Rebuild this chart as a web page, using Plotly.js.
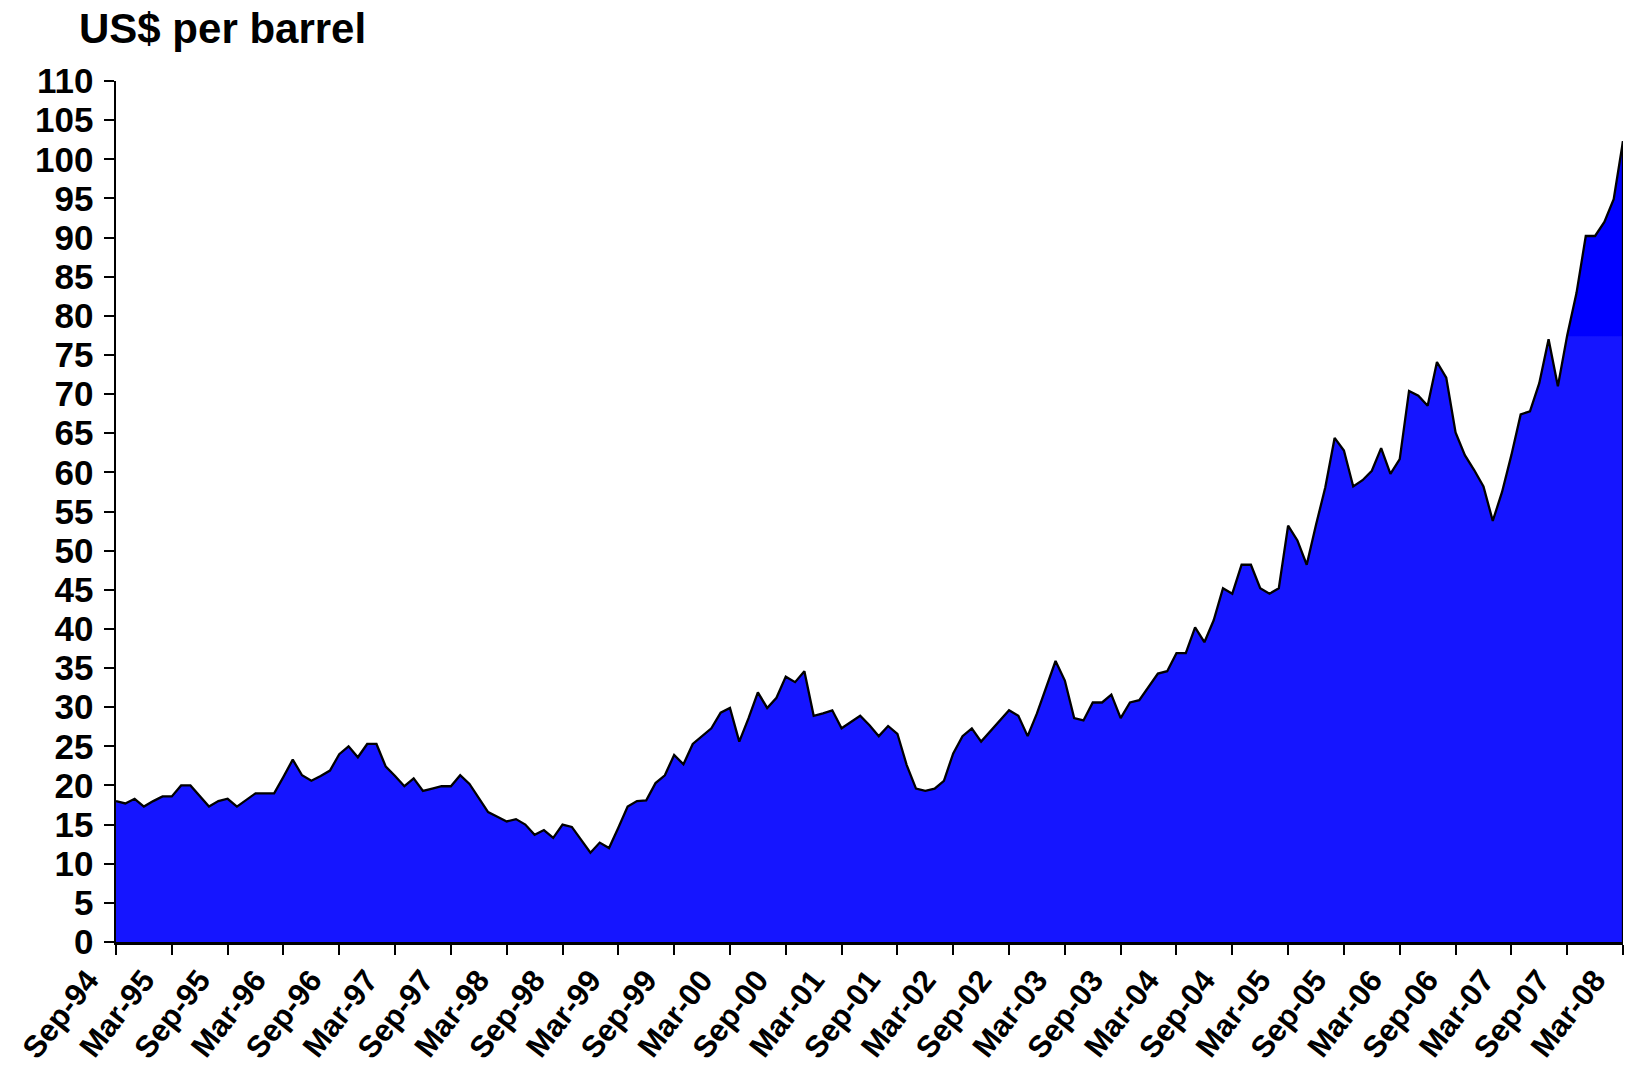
<!DOCTYPE html>
<html>
<head>
<meta charset="utf-8">
<script src="https://cdn.plot.ly/plotly-3.0.1.min.js"></script>
<style>
html,body{margin:0;padding:0;background:#ffffff;}
#chart{width:1626px;height:1070px;}
</style>
</head>
<body>
<div id="chart"></div>
<script>
// Monthly oil price, US$ per barrel, Sep-94 .. Mar-08
const price = [
  18.0, 17.7, 18.3, 17.3, 18.0, 18.6, 18.6, 20.0, 20.0, 18.6, 17.3, 18.0,   // Sep-94 .. Aug-95
  18.3, 17.3, 18.1, 19.0, 19.0, 19.0, 21.1, 23.3, 21.3, 20.6, 21.2, 21.9,   // Sep-95 .. Aug-96
  24.0, 25.0, 23.6, 25.3, 25.3, 22.4, 21.2, 19.9, 20.9, 19.3, 19.6, 19.9,   // Sep-96 .. Aug-97
  19.9, 21.3, 20.2, 18.4, 16.6, 16.0, 15.4, 15.7, 15.0, 13.7, 14.3, 13.3,   // Sep-97 .. Aug-98
  15.0, 14.7, 13.1, 11.4, 12.7, 12.0, 14.6, 17.3, 18.0, 18.1, 20.3, 21.3,   // Sep-98 .. Aug-99
  23.9, 22.7, 25.3, 26.3, 27.3, 29.3, 29.9, 25.6, 28.6, 31.9, 29.9, 31.2,   // Sep-99 .. Aug-00
  33.9, 33.2, 34.6, 28.9, 29.2, 29.6, 27.3, 28.1, 28.9, 27.7, 26.3, 27.6,   // Sep-00 .. Aug-01
  26.6, 22.6, 19.6, 19.3, 19.6, 20.6, 24.1, 26.3, 27.3, 25.6, 26.9, 28.2,   // Sep-01 .. Aug-02
  29.6, 28.9, 26.3, 29.2, 32.6, 35.9, 33.4, 28.6, 28.3, 30.6, 30.6, 31.6,   // Sep-02 .. Aug-03
  28.6, 30.6, 30.9, 32.6, 34.3, 34.6, 36.9, 36.9, 40.2, 38.3, 41.1, 45.2,   // Sep-03 .. Aug-04
  44.5, 48.2, 48.2, 45.2, 44.5, 45.2, 53.2, 51.3, 48.2, 53.3, 58.1, 64.4,   // Sep-04 .. Aug-05
  62.8, 58.2, 59.0, 60.2, 63.1, 59.8, 61.7, 70.4, 69.8, 68.5, 74.1, 72.1,   // Sep-05 .. Aug-06
  65.1, 62.2, 60.3, 58.2, 53.8, 57.5, 62.2, 67.4, 67.8, 71.4, 77.0, 71.0,   // Sep-06 .. Aug-07
  77.5, 82.9, 90.2, 90.2, 92.0, 94.9, 102.3                                 // Sep-07 .. Mar-08
];

const monthNames = ['Jan','Feb','Mar','Apr','May','Jun','Jul','Aug','Sep','Oct','Nov','Dec'];
const firstYear = 1994;
const firstMonthIndex = 8; // September

// Category labels, one per monthly value
const months = price.map(function (_, k) {
  const m = firstMonthIndex + k;
  const yy = (firstYear + Math.floor(m / 12)) % 100;
  return monthNames[m % 12] + '-' + String(yy).padStart(2, '0');
});

const tickLabels = [
  'Sep-94','Mar-95','Sep-95','Mar-96','Sep-96','Mar-97','Sep-97','Mar-98',
  'Sep-98','Mar-99','Sep-99','Mar-00','Sep-00','Mar-01','Sep-01','Mar-02',
  'Sep-02','Mar-03','Sep-03','Mar-04','Sep-04','Mar-05','Sep-05','Mar-06',
  'Sep-06','Mar-07','Sep-07','Mar-08'
];

const yTicks = [0,5,10,15,20,25,30,35,40,45,50,55,60,65,70,75,80,85,90,95,100,105,110];

const fontFamily = 'Liberation Sans, Arial, sans-serif';

const trace = {
  type: 'scatter',
  mode: 'lines',
  x: months,
  y: price,
  fill: 'tozeroy',
  fillcolor: 'rgb(21,21,255)',
  fillgradient: {
    type: 'vertical',
    start: 0,
    stop: 110,
    colorscale: [
      [0, 'rgb(21,21,255)'],
      [0.703, 'rgb(21,21,255)'],
      [0.704, 'rgb(0,0,255)'],
      [1, 'rgb(0,0,255)']
    ]
  },
  line: {color: '#000000', width: 2.3},
  hoverinfo: 'x+y',
  cliponaxis: false
};

const lastIdx = price.length - 1;

const layout = {
  width: 1626,
  height: 1070,
  paper_bgcolor: '#ffffff',
  plot_bgcolor: '#ffffff',
  margin: {l: 116, r: 3, t: 81, b: 128},
  showlegend: false,
  font: {family: fontFamily, color: '#000000', size: 30, weight: 'bold'},
  title: {
    text: 'US$ per barrel',
    x: 79 / 1626,
    xref: 'container',
    xanchor: 'left',
    y: 1 - 28 / 1070,
    yref: 'container',
    yanchor: 'middle',
    font: {family: fontFamily, size: 42, color: '#000000', weight: 'bold'}
  },
  xaxis: {
    type: 'category',
    categoryorder: 'array',
    categoryarray: months,
    range: [0, lastIdx],
    tickmode: 'array',
    tickvals: tickLabels,
    ticktext: tickLabels,
    tickangle: -52,
    ticklabelshift: -28,
    ticklabelstandoff: -5,
    ticks: 'outside',
    ticklen: 10,
    tickwidth: 2,
    tickcolor: '#000000',
    showline: true,
    linecolor: '#000000',
    linewidth: 2.5,
    showgrid: false,
    zeroline: false,
    tickfont: {family: fontFamily, size: 31, color: '#000000', weight: 'bold'}
  },
  yaxis: {
    range: [0, 110],
    tickmode: 'array',
    tickvals: yTicks,
    ticktext: yTicks.map(String),
    ticks: 'outside',
    ticklen: 10,
    tickwidth: 2,
    tickcolor: '#000000',
    ticklabelstandoff: 3,
    showline: true,
    linecolor: '#000000',
    linewidth: 2.5,
    showgrid: false,
    zeroline: false,
    tickfont: {family: fontFamily, size: 35, color: '#000000', weight: 'bold'}
  },
  shapes: [{
    type: 'line',
    xref: 'x', yref: 'y',
    x0: months[lastIdx], x1: months[lastIdx],
    y0: 0, y1: price[lastIdx],
    line: {color: '#000000', width: 2.3}
  }]
};

Plotly.newPlot('chart', [trace], layout, {displayModeBar: false, staticPlot: true});
</script>
</body>
</html>
